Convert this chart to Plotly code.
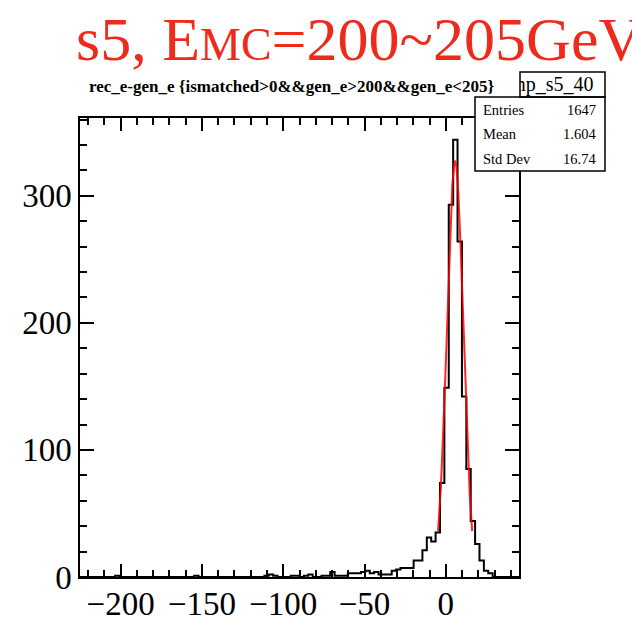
import numpy as np
import plotly.graph_objects as go

# ---------------- data ----------------
hist_x_min = -225.0
hist_x_max = 45.0
n_bins = 100
# non-empty bins: bin index -> entries
bin_index = [8, 26, 42, 43, 44, 48, 49, 51, 52, 55, 56, 57, 58, 59, 60, 61, 62, 63,
             64, 65, 66, 67, 68, 69, 70, 71, 72, 73, 74, 75, 76, 77, 78, 79, 80, 81,
             82, 83, 84, 85, 86, 87, 88, 89, 90, 91, 92, 93]
bin_count = [1, 1, 1, 2, 1, 1, 1, 1, 2, 1, 1, 4, 1, 1, 1, 3, 3, 3,
             4, 5, 3, 4, 2, 2, 2, 5, 6, 7, 7, 7, 13, 13, 21, 31, 28, 35,
             74, 149, 293, 344, 264, 142, 85, 44, 26, 13, 5, 3]
# gaussian fit (red curve)
fit_amp = 327.0
fit_mean = 5.7
fit_sigma = 5.0
fit_range = [-4.8, 16.2]

x_tick_vals = [-200, -150, -100, -50, 0]
y_tick_vals = [0, 100, 200, 300]
y_max = 361.2

main_title = "s5, E<span style='font-size:46px'>MC</span>=200~205GeV"
hist_title = "rec_e-gen_e {ismatched&gt;0&amp;&amp;gen_e&gt;200&amp;&amp;gen_e&lt;205}"
stats_name = "temp_s5_40"
stats_labels = ["Entries", "Mean", "Std Dev"]
stats_values = ["1647", "1.604", "16.74"]

# ---------------- build ----------------
W, H = 632, 621
edges = np.linspace(hist_x_min, hist_x_max, n_bins + 1)
counts = np.zeros(n_bins)
for i, c in zip(bin_index, bin_count):
    counts[i] = c
step_y = np.append(counts, counts[-1])

xf = np.linspace(fit_range[0], fit_range[1], 300)
yf = fit_amp * np.exp(-0.5 * ((xf - fit_mean) / fit_sigma) ** 2)

def px(x):
    return x / W

def py(y):
    return 1 - y / H

SERIF = "Liberation Serif"

fig = go.Figure()
fig.add_trace(go.Scatter(x=edges, y=step_y, mode="lines", line_shape="hv",
                         line=dict(color="black", width=2), showlegend=False,
                         hoverinfo="skip"))
fig.add_trace(go.Scatter(x=xf, y=yf, mode="lines",
                         line=dict(color="rgba(255,0,0,0.85)", width=2),
                         showlegend=False, hoverinfo="skip"))
# stats-box title text, clipped at the box's left edge
fig.add_trace(go.Scatter(x=[0.865], y=[0.45], mode="text", text=[stats_name],
                         textposition="middle left",
                         textfont=dict(family=SERIF, size=20, color="black"),
                         cliponaxis=True, showlegend=False, hoverinfo="skip",
                         xaxis="x2", yaxis="y2"))

frame_l, frame_r, frame_t, frame_b = 80, 519, 118, 577

axis_common = dict(showgrid=False, zeroline=False, showline=True, linecolor="black",
                   linewidth=1.5, mirror="allticks", ticks="inside", tickcolor="black",
                   tickwidth=1.5, automargin=False,
                   tickfont=dict(family=SERIF, size=33, color="black"))

fig.update_layout(
    template="none",
    width=W, height=H,
    margin=dict(l=0, r=0, t=0, b=0, pad=0),
    paper_bgcolor="white", plot_bgcolor="white",
    xaxis=dict(domain=[px(frame_l), px(frame_r)], range=[hist_x_min, hist_x_max],
               tickvals=x_tick_vals, ticklen=13, ticklabelstandoff=-3,
               minor=dict(dtick=10, tick0=0, ticklen=7, ticks="inside",
                          tickcolor="black", tickwidth=1.5),
               **axis_common),
    yaxis=dict(domain=[py(frame_b), py(frame_t)], range=[0, y_max],
               tickvals=y_tick_vals, ticklen=14,
               minor=dict(dtick=20, tick0=0, ticklen=7, ticks="inside",
                          tickcolor="black", tickwidth=1.5),
               **axis_common),
    xaxis2=dict(domain=[px(520), px(605)], range=[0, 1], visible=False,
                anchor="y2", automargin=False),
    yaxis2=dict(domain=[py(97), py(72)], range=[0, 1], visible=False,
                anchor="x2", automargin=False),
)

# stats box
fig.add_shape(type="rect", xref="paper", yref="paper",
              x0=px(475), x1=px(605), y0=py(171), y1=py(97),
              line=dict(color="black", width=1.5), fillcolor="white", layer="above")
fig.add_shape(type="rect", xref="paper", yref="paper",
              x0=px(520), x1=px(605), y0=py(97), y1=py(72),
              line=dict(color="black", width=1.5), fillcolor="rgba(0,0,0,0)", layer="above")

for i, (lab, val) in enumerate(zip(stats_labels, stats_values)):
    yy = 110 + i * 24.5
    fig.add_annotation(x=px(481), y=py(yy), xref="paper", yref="paper",
                       text=lab, showarrow=False, xanchor="left", yanchor="middle",
                       font=dict(family=SERIF, size=14.5, color="black"))
    fig.add_annotation(x=px(598), y=py(yy), xref="paper", yref="paper",
                       text=val, showarrow=False, xanchor="right", yanchor="middle",
                       font=dict(family=SERIF, size=14.5, color="black"))

# histogram title
fig.add_annotation(x=px(291), y=py(87), xref="paper", yref="paper",
                   text="<b>" + hist_title + "</b>", showarrow=False,
                   xanchor="center", yanchor="middle",
                   font=dict(family=SERIF, size=17, color="black"))

# slide title
fig.add_annotation(x=px(74), y=py(39), xref="paper", yref="paper",
                   text=main_title, showarrow=False, xanchor="left", yanchor="middle",
                   font=dict(family=SERIF, size=62, color="#EE2A1A"))

fig.write_html("out.html")
